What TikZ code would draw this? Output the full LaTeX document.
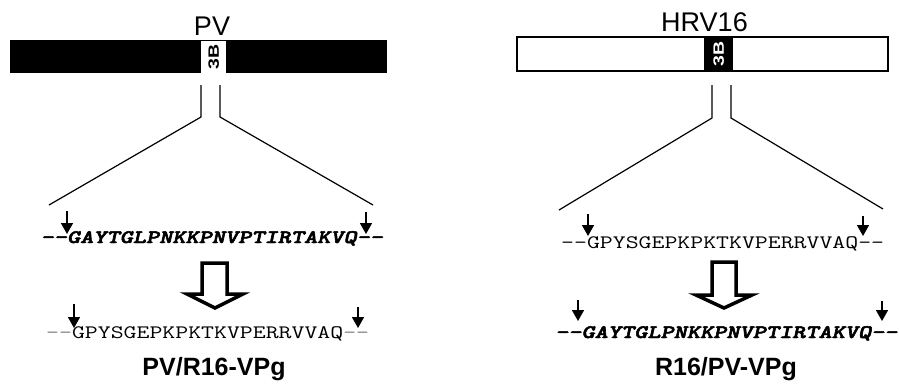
\documentclass[tikz,border=0pt]{standalone}
\usepackage{fontspec}
\setmainfont{Liberation Sans}
\newfontfamily\seqbfont{lmmonolt10-boldoblique}[Extension=.otf, FakeBold=2.5]
\usetikzlibrary{arrows.meta}
\newcommand{\seqstretch}[1]{\scalebox{1.32}[1]{#1}}
\newcommand{\boxstretch}[1]{\scalebox{1.3}[1]{#1}}
\begin{document}
\begin{tikzpicture}[x=1pt,y=-1pt,
  seqbold/.style={font=\seqbfont\fontsize{19}{22}\selectfont, anchor=base west, inner sep=0pt},
  seqreg/.style={font=\ttfamily\fontsize{19}{22}\selectfont, anchor=base west, inner sep=0pt},
  title/.style={font=\fontsize{27}{30}\selectfont, anchor=base, inner sep=0pt},
  vlabel/.style={font=\bfseries\fontsize{25}{28}\selectfont, anchor=base, inner sep=0pt},
  boxlab/.style={rotate=90, font=\bfseries\fontsize{15}{16}\selectfont, inner sep=0pt},
  cut/.style={-{Triangle[width=12pt,length=11pt]}, line width=1.6pt},
  link/.style={line width=1.2pt},
  hollow/.style={draw=black, fill=white, line width=3.5pt, miter limit=10}
]
\useasboundingbox (0,0) rectangle (899,383);

% ---------- left (PV) ----------
\node[title] (pv) at (212,35) {PV};
\fill[black] (10,40) rectangle (387,73);
\node[fill=white, inner sep=0pt, minimum width=25pt, minimum height=32pt, anchor=north west] (pvb) at (201,41) {};
\node[boxlab] (pvbt) at (pvb.center) {\boxstretch{3B}};

\coordinate (pl1) at (201,85); \coordinate (pl2) at (201,117); \coordinate (pl3) at (49,205);
\coordinate (pr1) at (220,85); \coordinate (pr2) at (220,117); \coordinate (pr3) at (373,205);
\draw[link] (pl1) -- (pl2) -- (pl3);
\draw[link] (pr1) -- (pr2) -- (pr3);

\node[seqbold] (pvseq) at (40.5,243) {\seqstretch{-{}-GAYTGLPNKKPNVPTIRTAKVQ-{}-}};
\coordinate (a1s) at (67,211); \coordinate (a1e) at (67,234);
\coordinate (a2s) at (366,212); \coordinate (a2e) at (366,234);
\draw[cut] (a1s) -- (a1e);
\draw[cut] (a2s) -- (a2e);

\draw[hollow] (202,263) -- (227,263) -- (227,294) -- (243,294) -- (215,308) -- (187,294) -- (202,294) -- cycle;

\node[seqreg] (pvseq2) at (46,338) {\seqstretch{\textcolor{gray}{-{}-}GPYSGEPKPKTKVPERRVVAQ\textcolor{gray}{-{}-}}};
\coordinate (a3s) at (74,304); \coordinate (a3e) at (74,328);
\coordinate (a4s) at (358,307); \coordinate (a4e) at (358,328);
\draw[cut] (a3s) -- (a3e);
\draw[cut] (a4s) -- (a4e);

\node[vlabel] (pvlab) at (214,375) {PV/R16-VPg};

% ---------- right (HRV16) ----------
\node[title] (hrv) at (704.5,31) {HRV16};
\draw[line width=1.2pt, fill=white] (517,37) rectangle (888,71);
\node[fill=black, inner sep=0pt, minimum width=29pt, minimum height=34pt, anchor=north west] (hrb) at (704,37) {};
\node[boxlab, text=white] (hrbt) at (hrb.center) {\boxstretch{3B}};

\coordinate (ql1) at (712,85); \coordinate (ql2) at (712,118); \coordinate (ql3) at (559,210);
\coordinate (qr1) at (731,85); \coordinate (qr2) at (731,118); \coordinate (qr3) at (883,209);
\draw[link] (ql1) -- (ql2) -- (ql3);
\draw[link] (qr1) -- (qr2) -- (qr3);

\node[seqreg] (hrseq) at (561,248) {\seqstretch{-{}-GPYSGEPKPKTKVPERRVVAQ-{}-}};
\coordinate (b1s) at (588,214); \coordinate (b1e) at (588,236);
\coordinate (b2s) at (863,216); \coordinate (b2e) at (863,236);
\draw[cut] (b1s) -- (b1e);
\draw[cut] (b2s) -- (b2e);

\draw[hollow] (712,262) -- (736,262) -- (736,295) -- (752,295) -- (724,308) -- (696,295) -- (712,295) -- cycle;

\node[seqbold] (hrseq2) at (555,338) {\seqstretch{-{}-GAYTGLPNKKPNVPTIRTAKVQ-{}-}};
\coordinate (b3s) at (578,300); \coordinate (b3e) at (578,321);
\coordinate (b4s) at (882,301); \coordinate (b4e) at (882,321);
\draw[cut] (b3s) -- (b3e);
\draw[cut] (b4s) -- (b4e);

\node[vlabel] (hrlab) at (726,375) {R16/PV-VPg};
\end{tikzpicture}
\end{document}
